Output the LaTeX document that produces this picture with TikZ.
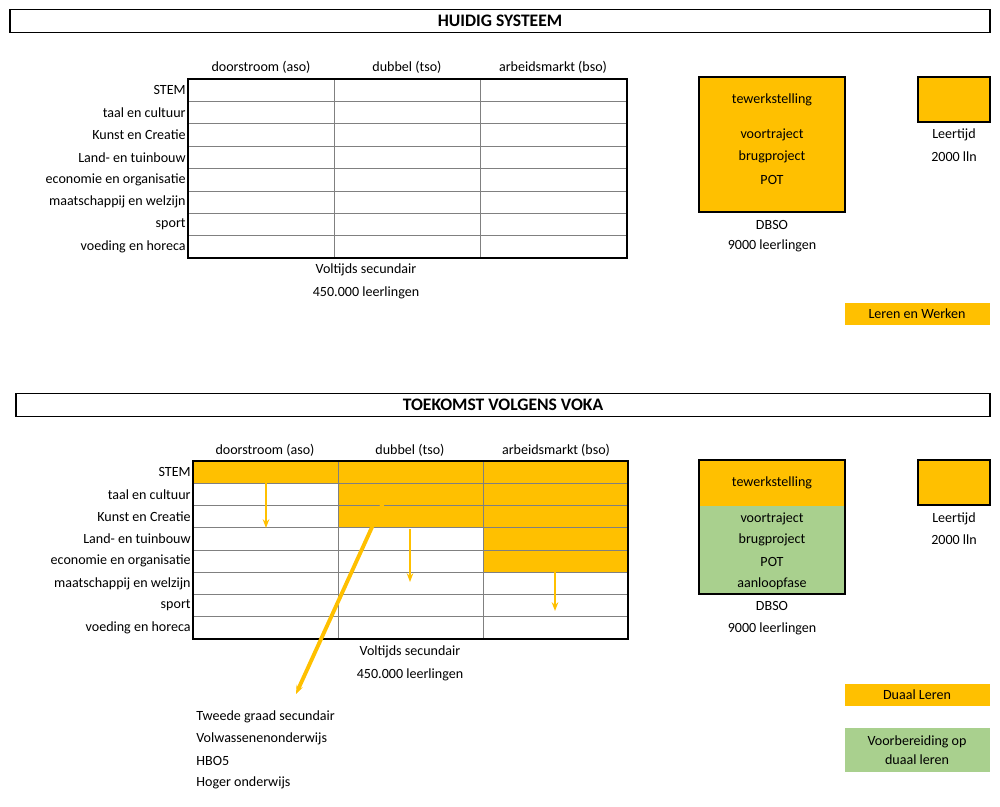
\documentclass[tikz,border=0pt]{standalone}
\usepackage{fontspec}
\setmainfont{Carlito}
\usetikzlibrary{arrows.meta, positioning}
\definecolor{oranje}{HTML}{FFC000}
\definecolor{groen}{HTML}{A9D08E}
\tikzset{
	titlebox/.style={draw, thick, minimum height=0.44cm, font=\bfseries},
	lbl/.style={inner sep=0pt, anchor=east},
	txt/.style={inner sep=0pt},
	legend/.style={fill=oranje, inner sep=0pt, minimum width=2.9cm},
	pijl/.style={-{Stealth[length=5pt]}, oranje, thick}
}
\begin{document}
\begin{tikzpicture}[x=0.02cm, y=-0.02cm, font=\fontsize{8}{9.5}\selectfont]
		\useasboundingbox (0,0) rectangle (1000,806);
		% huidig systeem
		\node[titlebox, minimum width=19.6cm] (T1) at (500,21) {HUIDIG SYSTEEM};
		\foreach \c/\t in {261/doorstroom (aso), 407/dubbel (tso), 553/arbeidsmarkt (bso)}
			\node[txt] at (\c,67) {\t};
		\foreach \l [count=\i] in {STEM, taal en cultuur, Kunst en Creatie, Land- en tuinbouw,
				economie en organisatie, maatschappij en welzijn, sport, voeding en horeca}
			\node[lbl] at (186,{79+22.4*\i-11.2}) {\l};
		\foreach \i in {1,...,7}
			\draw[gray] (188,{79+22.4*\i}) -- (627,{79+22.4*\i});
		\draw[gray] (334,79) -- (334,258) (480,79) -- (480,258);
		\draw[thick] (188,79) rectangle (627,258);
		\node[txt] (V1) at (366,270) {Voltijds secundair};
		\node[txt] at (366,293) {450.000 leerlingen};
		\draw[thick, fill=oranje] (699,77) rectangle (845,212);
		\node[txt] at (772,100) {tewerkstelling};
		\node[txt] at (772,135) {voortraject};
		\node[txt] at (772,157) {brugproject};
		\node[txt] at (772,180) {POT};
		\node[txt] at (772,225) {DBSO};
		\node[txt] at (772,246) {9000 leerlingen};
		\draw[thick, fill=oranje] (918,77) rectangle (990,122);
		\node[txt] at (954,135) {Leertijd};
		\node[txt] at (954,157) {2000 lln};
		\node[legend, minimum height=0.44cm] (LW) at (917,314) {Leren en Werken};
		% toekomst volgens voka
		\node[titlebox, minimum width=19.48cm] (T2) at (503,405) {TOEKOMST VOLGENS VOKA};
		\fill[oranje] (193,461) rectangle (628,483.3) (338,483.3) rectangle (628,527.8)
			(483,527.8) rectangle (628,572.3);
		\foreach \c/\t in {265/doorstroom (aso), 410/dubbel (tso), 556/arbeidsmarkt (bso)}
			\node[txt] at (\c,450) {\t};
		\foreach \l [count=\i] in {STEM, taal en cultuur, Kunst en Creatie, Land- en tuinbouw,
				economie en organisatie, maatschappij en welzijn, sport, voeding en horeca}
			\node[lbl] at (191,{461+22.25*\i-11.1}) {\l};
		\foreach \i in {1,...,7}
			\draw[gray] (193,{461+22.25*\i}) -- (628,{461+22.25*\i});
		\draw[gray] (338,461) -- (338,639) (483,461) -- (483,639);
		\draw[thick] (193,461) rectangle (628,639);
		\node[txt] (V2) at (410,652) {Voltijds secundair};
		\node[txt] at (410,675) {450.000 leerlingen};
		\coordinate (a1) at (266,481); \coordinate (b1) at (266,528);
		\coordinate (a2) at (410,529); \coordinate (b2) at (410,582);
		\coordinate (a3) at (555,572); \coordinate (b3) at (555,611);
		\coordinate (a4) at (383,503); \coordinate (b4) at (296,694);
		\draw[pijl] (a1) -- (b1);
		\draw[pijl] (a2) -- (b2);
		\draw[pijl] (a3) -- (b3);
		\draw[pijl, line width=2.2pt] (a4) -- (b4);
		\fill[oranje] (699,460) rectangle (845,506);
		\fill[groen] (699,506) rectangle (845,594);
		\draw[thick] (699,460) rectangle (845,594);
		\node[txt] at (772,483) {tewerkstelling};
		\node[txt] at (772,519) {voortraject};
		\node[txt] at (772,540) {brugproject};
		\node[txt] at (772,562) {POT};
		\node[txt] at (772,584) {aanloopfase};
		\node[txt] at (772,606) {DBSO};
		\node[txt] at (772,629) {9000 leerlingen};
		\draw[thick, fill=oranje] (918,460) rectangle (990,505);
		\node[txt] at (954,519) {Leertijd};
		\node[txt] at (954,540) {2000 lln};
		\node[legend, minimum height=0.44cm] (DL) at (917,695) {Duaal Leren};
		\node[legend, fill=groen, minimum height=0.88cm, align=center] (VB) at (917,750)
			{Voorbereiding op\\[1pt] duaal leren};
		\node[txt, anchor=west] at (196,717) {Tweede graad secundair};
		\node[txt, anchor=west] at (196,739) {Volwassenenonderwijs};
		\node[txt, anchor=west] at (196,761) {HBO5};
		\node[txt, anchor=west] at (196,783) {Hoger onderwijs};
	\end{tikzpicture}
\end{document}
